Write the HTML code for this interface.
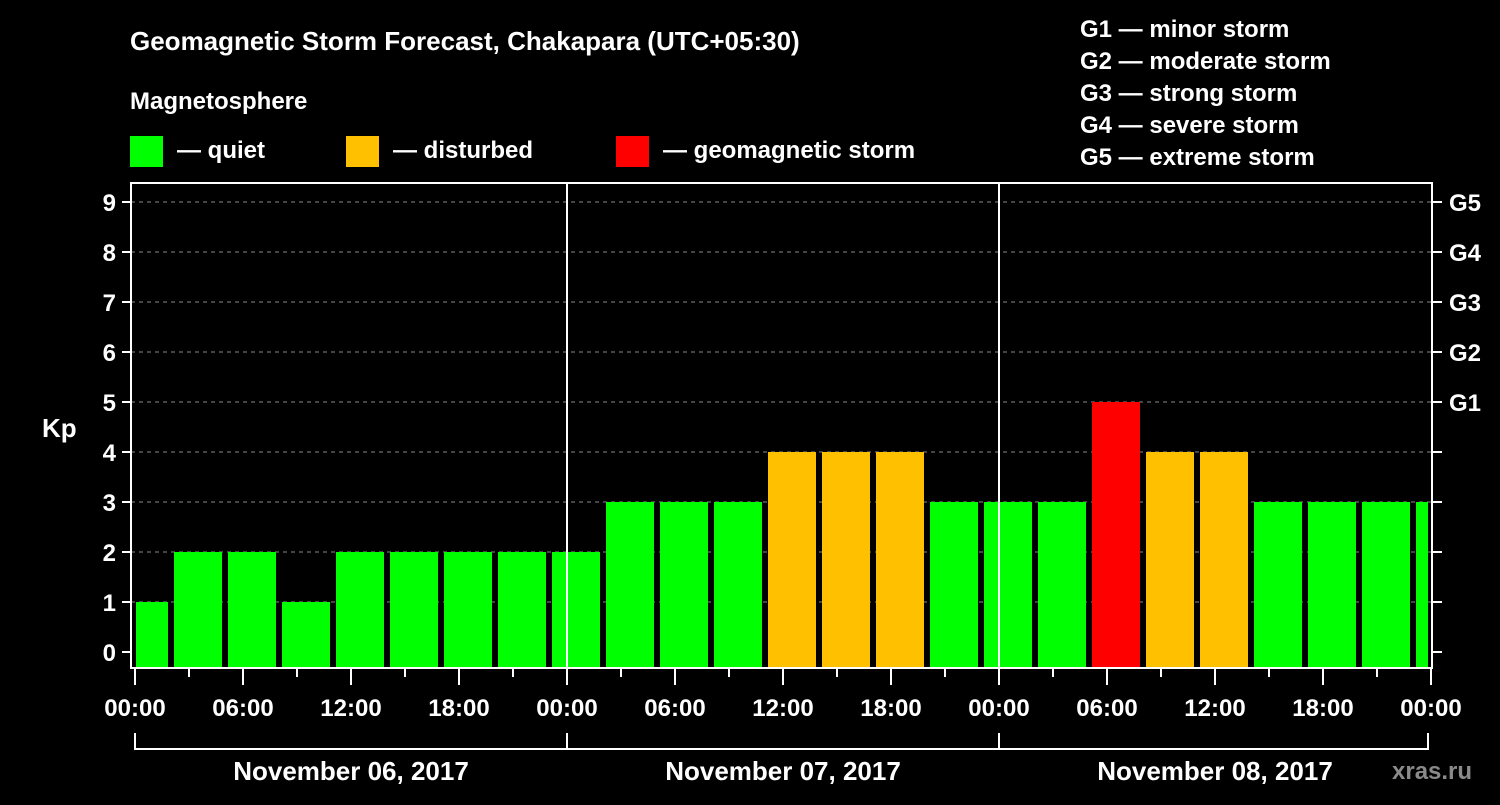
<!DOCTYPE html>
<html><head><meta charset="utf-8"><style>
body{margin:0;background:#000;width:1500px;height:800px;overflow:hidden;font-family:"Liberation Sans",sans-serif}
svg text{font-family:"Liberation Sans",sans-serif;font-weight:bold;fill:#fff}
</style></head><body>
<svg width="1500" height="800" id="chart">
<text x="130" y="50" font-size="26">Geomagnetic Storm Forecast, Chakapara (UTC+05:30)</text>
<text x="130" y="109" font-size="24">Magnetosphere</text>
<g><rect x="130" y="136" width="33" height="31" fill="#00ff00"/><text x="177" y="158" font-size="24">— quiet</text></g>
<g><rect x="346" y="136" width="33" height="31" fill="#ffc000"/><text x="393" y="158" font-size="24">— disturbed</text></g>
<g><rect x="616" y="136" width="33" height="31" fill="#ff0000"/><text x="663" y="158" font-size="24">— geomagnetic storm</text></g>
<g font-size="24">
<text x="1080" y="37">G1 — minor storm</text>
<text x="1080" y="69">G2 — moderate storm</text>
<text x="1080" y="101">G3 — strong storm</text>
<text x="1080" y="133">G4 — severe storm</text>
<text x="1080" y="165">G5 — extreme storm</text>
</g>
<text x="42" y="437" font-size="26">Kp</text>
<text x="1392" y="779" font-size="24" fill="#888" style="fill:#8a8a8a">xras.ru</text>
<g id="grid"></g><g id="bars"></g><g id="axes"></g>
</svg>
<script>
const values=[1,2,2,1,2,2,2,2,2,3,3,3,4,4,4,3,3,3,5,4,4,3,3,3,3];
const yTicks=[0,1,2,3,4,5,6,7,8,9];
const gLabels=["G1","G2","G3","G4","G5"];
const xTickLabels=["00:00","06:00","12:00","18:00","00:00","06:00","12:00","18:00","00:00","06:00","12:00","18:00","00:00"];
const dayLabels=["November 06, 2017","November 07, 2017","November 08, 2017"];
const firstSlotHour=-1;
const NS="http://www.w3.org/2000/svg";
const L=131,R=1432,T=183,B=668,X0=135,PXH=18;
const y=v=>652-v*50, x=h=>X0+h*PXH;
function mk(p,tag,a){const e=document.createElementNS(NS,tag);for(const k in a)e.setAttribute(k,a[k]);document.getElementById(p).appendChild(e);return e;}
yTicks.forEach(v=>{if(v>0){const g=mk('grid','line',{x1:L,x2:R,y1:y(v),y2:y(v),stroke:'#888','stroke-dasharray':'4 4','stroke-width':1});

}
const t=mk('axes','line',{x1:L-9,x2:L,y1:y(v),y2:y(v),stroke:'#fff','stroke-width':2});


const t2=mk('axes','line',{x1:R,x2:R+10,y1:y(v),y2:y(v),stroke:'#fff','stroke-width':2});


const lb=mk('axes','text',{x:L-15,y:y(v)+9,'font-size':24,'text-anchor':'end'});lb.textContent=v;


if(v>=5){const g=mk('axes','text',{x:R+17,y:y(v)+9,'font-size':24});g.textContent=gLabels[v-5];

}});
values.forEach((v,i)=>{let x1=x(firstSlotHour+i*3)+3,x2=x(firstSlotHour+i*3+3)-3;x1=Math.max(x1,L+5);x2=Math.min(x2,R-4);
const c=v>=5?'#ff0000':v>=4?'#ffc000':'#00ff00';
const r=mk('bars','rect',{x:x1,y:y(v),width:x2-x1,height:B-y(v),fill:c});

});
[1,2].forEach(d=>{const l=mk('axes','line',{x1:x(d*24),x2:x(d*24),y1:T,y2:B,stroke:'#fff','stroke-width':2});

});
const f=mk('axes','rect',{x:L,y:T,width:R-L,height:B-T,fill:'none',stroke:'#fff','stroke-width':2});


for(let h=0;h<=72;h+=3){const maj=h%6==0;const t=mk('axes','line',{x1:x(h),x2:x(h),y1:B,y2:B+(maj?17:9),stroke:'#fff','stroke-width':2});

}
xTickLabels.forEach((s,i)=>{const t=mk('axes','text',{x:x(i*6),y:716,'font-size':24,'text-anchor':'middle'});t.textContent=s;

});
const br=mk('axes','path',{d:`M${x(0)} 733V749H${R-4}V733M${x(24)} 733V749M${x(48)} 733V749`,fill:'none',stroke:'#fff','stroke-width':2});


dayLabels.forEach((s,i)=>{const t=mk('axes','text',{x:x(i*24+12),y:780,'font-size':26,'text-anchor':'middle'});t.textContent=s;

});
</script>
</body></html>
